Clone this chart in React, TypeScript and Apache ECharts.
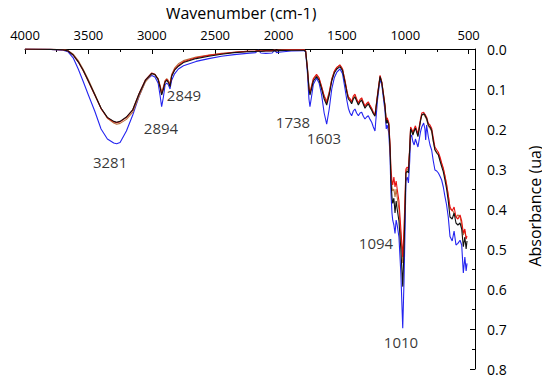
import React, { useEffect, useRef } from "react";
import * as echarts from "echarts";

const wavenumbers = [
  4000, 3800, 3700, 3660, 3620, 3580, 3540, 3500, 3450, 3400, 3350, 3300, 3277, 3250, 3200, 3150, 3100, 3050, 3000, 2975,
  2950, 2935, 2922, 2908, 2895, 2882, 2868, 2856, 2843, 2820, 2790, 2750, 2650, 2550, 2450, 2350, 2250, 2180, 2160, 2140,
  2100, 2050, 2030, 2015, 2000, 1900, 1800, 1786, 1772, 1760, 1752, 1740, 1725, 1700, 1680, 1660, 1640, 1620, 1600, 1580,
  1560, 1540, 1515, 1495, 1475, 1460, 1449, 1436, 1423, 1410, 1397, 1384, 1370, 1357, 1344, 1331, 1318, 1305, 1292, 1278,
  1265, 1252, 1239, 1220, 1199, 1185, 1170, 1160, 1150, 1143, 1130, 1120, 1113, 1105, 1099, 1090, 1081, 1072, 1064, 1050,
  1035, 1020, 1010, 1000, 995, 985, 975, 965, 958, 950, 940, 930, 920, 900, 880, 870, 855, 845, 839, 832,
  818, 805, 792, 779, 766, 752, 739, 726, 713, 700, 687, 674, 661, 647, 630, 615, 600, 585, 568, 555,
  542, 530, 520, 513,
];

const blackAbs = [
  0, 0.001, 0.002, 0.005, 0.015, 0.032, 0.054, 0.08, 0.114, 0.148, 0.171, 0.181, 0.183, 0.181, 0.17, 0.152, 0.112, 0.078, 0.061, 0.064,
  0.076, 0.095, 0.115, 0.1, 0.083, 0.078, 0.084, 0.094, 0.068, 0.053, 0.043, 0.034, 0.024, 0.018, 0.013, 0.009, 0.007, 0.006, 0.005, 0.006,
  0.005, 0.005, 0.004, 0.005, 0.004, 0.003, 0.003, 0.006, 0.05, 0.1, 0.115, 0.1, 0.08, 0.069, 0.078, 0.1, 0.125, 0.14, 0.115, 0.08,
  0.06, 0.05, 0.044, 0.054, 0.085, 0.11, 0.125, 0.13, 0.137, 0.125, 0.12, 0.13, 0.14, 0.132, 0.128, 0.138, 0.148, 0.142, 0.137, 0.146,
  0.153, 0.162, 0.168, 0.12, 0.069, 0.085, 0.12, 0.144, 0.186, 0.178, 0.19, 0.25, 0.33, 0.37, 0.386, 0.373, 0.41, 0.38, 0.4, 0.43,
  0.5, 0.594, 0.5, 0.38, 0.31, 0.305, 0.31, 0.25, 0.2, 0.205, 0.215, 0.205, 0.198, 0.219, 0.18, 0.165, 0.162, 0.165, 0.17, 0.173,
  0.19, 0.195, 0.203, 0.23, 0.252, 0.26, 0.265, 0.28, 0.294, 0.307, 0.328, 0.35, 0.38, 0.42, 0.425, 0.41, 0.435, 0.44, 0.435, 0.45,
  0.494, 0.47, 0.5, 0.48,
];

const redAbs = [
  0, 0.001, 0.002, 0.005, 0.015, 0.032, 0.055, 0.081, 0.115, 0.149, 0.172, 0.182, 0.184, 0.182, 0.171, 0.152, 0.111, 0.077, 0.06, 0.063,
  0.075, 0.093, 0.112, 0.098, 0.081, 0.076, 0.082, 0.092, 0.066, 0.051, 0.041, 0.032, 0.022, 0.016, 0.012, 0.008, 0.006, 0.005, 0.004, 0.005,
  0.004, 0.004, 0.003, 0.004, 0.003, 0.002, 0.002, 0.005, 0.048, 0.097, 0.11, 0.095, 0.074, 0.063, 0.072, 0.094, 0.118, 0.135, 0.11, 0.076,
  0.056, 0.046, 0.04, 0.05, 0.08, 0.105, 0.12, 0.124, 0.132, 0.118, 0.113, 0.124, 0.135, 0.126, 0.122, 0.133, 0.143, 0.136, 0.132, 0.141,
  0.148, 0.158, 0.165, 0.116, 0.066, 0.082, 0.117, 0.14, 0.18, 0.172, 0.184, 0.24, 0.3, 0.33, 0.34, 0.32, 0.345, 0.33, 0.35, 0.38,
  0.45, 0.52, 0.45, 0.35, 0.3, 0.295, 0.3, 0.245, 0.195, 0.2, 0.208, 0.2, 0.192, 0.212, 0.175, 0.16, 0.158, 0.163, 0.166, 0.17,
  0.186, 0.19, 0.198, 0.222, 0.245, 0.252, 0.258, 0.27, 0.285, 0.298, 0.318, 0.34, 0.365, 0.395, 0.405, 0.395, 0.42, 0.425, 0.415, 0.43,
  0.46, 0.45, 0.475, 0.468,
];

const brownAbs = [
  0, 0.001, 0.002, 0.004, 0.013, 0.029, 0.051, 0.077, 0.112, 0.148, 0.173, 0.185, 0.188, 0.186, 0.176, 0.158, 0.118, 0.082, 0.062, 0.064,
  0.074, 0.09, 0.107, 0.094, 0.079, 0.074, 0.079, 0.088, 0.064, 0.048, 0.037, 0.029, 0.02, 0.015, 0.011, 0.008, 0.006, 0.005, 0.004, 0.005,
  0.004, 0.004, 0.003, 0.004, 0.003, 0.002, 0.002, 0.005, 0.046, 0.094, 0.108, 0.093, 0.075, 0.066, 0.074, 0.095, 0.117, 0.13, 0.107, 0.075,
  0.056, 0.046, 0.04, 0.05, 0.08, 0.106, 0.122, 0.127, 0.134, 0.122, 0.117, 0.127, 0.137, 0.129, 0.125, 0.135, 0.145, 0.139, 0.134, 0.143,
  0.15, 0.16, 0.166, 0.118, 0.068, 0.084, 0.118, 0.142, 0.182, 0.175, 0.187, 0.245, 0.31, 0.345, 0.355, 0.35, 0.37, 0.35, 0.37, 0.4,
  0.47, 0.535, 0.47, 0.36, 0.305, 0.3, 0.305, 0.25, 0.198, 0.205, 0.212, 0.205, 0.196, 0.216, 0.18, 0.166, 0.163, 0.168, 0.172, 0.176,
  0.193, 0.198, 0.206, 0.232, 0.252, 0.258, 0.262, 0.275, 0.288, 0.3, 0.318, 0.338, 0.365, 0.4, 0.4025, 0.41, 0.42, 0.415, 0.42, 0.44,
  0.465, 0.455, 0.47, 0.47,
];

const blueAbs = [
  0, 0.001, 0.003, 0.007, 0.022, 0.05, 0.082, 0.115, 0.155, 0.2, 0.225, 0.235, 0.237, 0.234, 0.205, 0.165, 0.118, 0.08, 0.066, 0.07,
  0.085, 0.115, 0.144, 0.12, 0.09, 0.085, 0.09, 0.1, 0.078, 0.062, 0.05, 0.042, 0.031, 0.024, 0.018, 0.014, 0.011, 0.009, 0.003, 0.01,
  0.011, 0.01, 0.003, 0.009, 0.008, 0.005, 0.004, 0.007, 0.06, 0.125, 0.144, 0.12, 0.088, 0.073, 0.085, 0.115, 0.16, 0.188, 0.15, 0.1,
  0.072, 0.058, 0.05, 0.062, 0.1, 0.13, 0.148, 0.16, 0.167, 0.155, 0.15, 0.16, 0.167, 0.16, 0.158, 0.168, 0.175, 0.17, 0.167, 0.176,
  0.183, 0.195, 0.205, 0.13, 0.075, 0.09, 0.13, 0.155, 0.2, 0.19, 0.21, 0.27, 0.36, 0.41, 0.428, 0.44, 0.461, 0.4275, 0.44, 0.47,
  0.56, 0.698, 0.58, 0.42, 0.33, 0.32, 0.335, 0.28, 0.22, 0.215, 0.232, 0.24, 0.225, 0.245, 0.207, 0.195, 0.185, 0.2, 0.2275, 0.19,
  0.22, 0.24, 0.2525, 0.28, 0.3025, 0.305, 0.31, 0.318, 0.3275, 0.345, 0.369, 0.39, 0.42, 0.469, 0.48, 0.455, 0.49, 0.486, 0.478, 0.49,
  0.56, 0.52, 0.555, 0.536,
];

const xMajorTicks = [4000, 3500, 3000, 2500, 2000, 1500, 1000, 500];
const xMinorTicks = [3750, 3250, 2750, 2250, 1750, 1250, 750];

const peakLabels = ["3281", "2894", "2849", "1738", "1603", "1094", "1010"];
const peakLabelWn = [3329, 2927, 2746, 1886, 1641, 1231, 1034];
const peakLabelAbs = [0.2825, 0.1975, 0.115, 0.1825, 0.2225, 0.485, 0.7325];

const FONT = "'Open Sans', 'Liberation Sans', sans-serif";

export default function App() {
  const ref = useRef<HTMLDivElement>(null);
  useEffect(() => {
    if (!ref.current) return;
    const chart = echarts.init(ref.current, null, { renderer: "svg" });
    const mk = (vals: number[]) => wavenumbers.map((w, i) => [w, vals[i]]);
    const lineSeries = (name: string, vals: number[], color: string) => ({
      name,
      type: "line",
      data: mk(vals),
      showSymbol: false,
      symbol: "none",
      lineStyle: { color, width: 1.1 },
      itemStyle: { color },
      z: 2,
    });
    chart.setOption({
      animation: false,
      backgroundColor: "#ffffff",
      textStyle: { fontFamily: FONT },
      grid: { left: 25, right: 75, top: 49, bottom: 13, containLabel: false },
      xAxis: [
        {
          type: "value",
          position: "top",
          inverse: true,
          min: 450,
          max: 4000,
          axisLine: { show: true, onZero: false, lineStyle: { color: "#000", width: 1 } },
          axisTick: { show: true, inside: true, length: 5, customValues: xMajorTicks, lineStyle: { color: "#000" } },
          axisLabel: {
            show: true,
            customValues: xMajorTicks,
            fontSize: 13,
            color: "#000",
            margin: 8,
            fontFamily: FONT,
            formatter: (v: number) => String(v),
          },
          splitLine: { show: false },
        },
        {
          type: "value",
          position: "top",
          inverse: true,
          min: 450,
          max: 4000,
          axisLine: { show: false, onZero: false },
          axisTick: { show: true, inside: true, length: 3, customValues: xMinorTicks, lineStyle: { color: "#000" } },
          axisLabel: { show: false },
          splitLine: { show: false },
        },
      ],
      yAxis: {
        type: "value",
        position: "right",
        inverse: true,
        min: 0,
        max: 0.8,
        interval: 0.1,
        axisLine: { show: true, onZero: false, lineStyle: { color: "#000", width: 1 } },
        axisTick: { show: true, inside: true, length: 5, lineStyle: { color: "#000" } },
        minorTick: { show: true, splitNumber: 2, length: 3, lineStyle: { color: "#000" } },
        axisLabel: {
          fontSize: 14,
          color: "#000",
          margin: 12,
          fontFamily: FONT,
          formatter: (v: number) => v.toFixed(1),
        },
        splitLine: { show: false },
        minorSplitLine: { show: false },
      },
      graphic: [
        {
          type: "text",
          x: 241,
          y: 13,
          style: {
            text: "Wavenumber (cm-1)",
            fontSize: 16,
            fontFamily: FONT,
            fill: "#000",
            textAlign: "center",
            textVerticalAlign: "middle",
          },
        },
        {
          type: "text",
          x: 535,
          y: 206,
          rotation: Math.PI / 2,
          style: {
            text: "Absorbance (ua)",
            fontSize: 16,
            fontFamily: FONT,
            fill: "#000",
            textAlign: "center",
            textVerticalAlign: "middle",
          },
        },
      ],
      series: [
        lineSeries("blue", blueAbs, "#2424f0"),
        lineSeries("brown", brownAbs, "#b9723e"),
        lineSeries("red", redAbs, "#e81010"),
        lineSeries("black", blackAbs, "#111111"),
        {
          name: "labels",
          type: "scatter",
          symbolSize: 0,
          data: peakLabels.map((t, i) => ({ value: [peakLabelWn[i], peakLabelAbs[i]], name: t })),
          label: {
            show: true,
            position: "inside",
            formatter: (p: any) => p.name,
            fontSize: 15,
            color: "#000",
            fontFamily: FONT,
          },
          silent: true,
          z: 5,
        },
      ],
    });
    return () => chart.dispose();
  }, []);
  return <div ref={ref} style={{ width: 550, height: 382, marginLeft: -8, marginTop: -8 }} />;
}
